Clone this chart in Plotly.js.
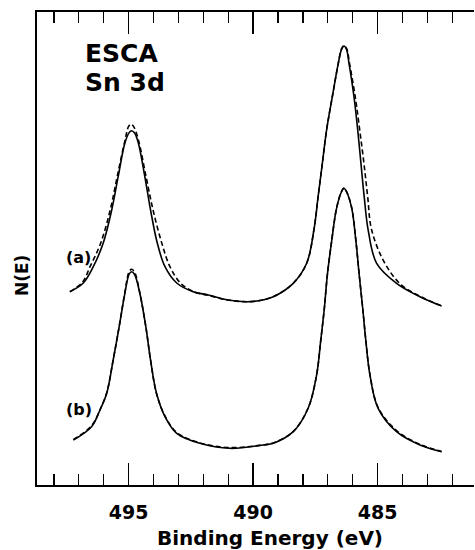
<!DOCTYPE html>
<html>
<head>
<meta charset="utf-8">
<script src="https://cdn.plot.ly/plotly-3.0.1.min.js"></script>
<style>html,body{margin:0;padding:0;background:#fff;}#chart{width:475px;height:550px;}#dbg{position:absolute;left:0;top:528px;width:150px;font:7px monospace;color:#999;line-height:8px;overflow:hidden;height:22px;}</style>
</head>
<body>
<div id="chart"></div>
<div id="dbg"></div>
<script>
window.__errs = [];
window.addEventListener('error', e => { window.__errs.push(String(e.message)); });

// Binding energy (eV) and N(E) (arbitrary units)
const aSolidX = [497.36, 496.82, 496.42, 496.02, 495.68, 495.42, 495.15, 494.98, 494.88, 494.76, 494.61, 494.35, 494.12, 493.85, 493.54, 493.07, 492.41, 491.80, 491.01, 490.26, 489.73, 489.19, 488.39, 487.85, 487.56, 487.39, 487.22, 487.05, 486.82, 486.58, 486.45, 486.35, 486.25, 486.15, 485.95, 485.80, 485.67, 485.54, 485.38, 485.04, 484.24, 483.30, 482.43];
const aSolidY = [40.87, 42.71, 46.15, 51.16, 58.14, 65.18, 72.30, 74.50, 74.91, 74.40, 72.30, 65.18, 58.14, 51.16, 46.15, 42.71, 40.87, 40.17, 39.11, 38.75, 39.00, 39.81, 42.64, 46.87, 53.91, 60.95, 68.01, 75.05, 82.09, 89.15, 92.10, 92.81, 92.10, 89.15, 82.09, 75.05, 68.01, 60.95, 53.91, 46.87, 42.64, 39.81, 37.84];

const aDashX = [497.36, 496.85, 496.55, 496.12, 495.74, 495.46, 495.17, 495.00, 494.90, 494.78, 494.60, 494.30, 494.02, 493.67, 493.34, 492.90, 492.35, 491.80, 491.01, 490.26, 489.73, 489.19, 488.39, 487.85, 487.56, 487.39, 487.22, 487.05, 486.82, 486.58, 486.45, 486.35, 486.24, 486.13, 485.90, 485.72, 485.55, 485.40, 485.24, 484.71, 484.05, 483.25, 482.43];
const aDashY = [40.87, 42.90, 46.15, 51.16, 58.14, 65.18, 72.30, 75.80, 76.30, 75.60, 72.80, 65.18, 58.14, 51.16, 46.15, 42.60, 40.80, 40.10, 39.11, 38.75, 39.00, 39.81, 42.64, 46.87, 53.91, 60.95, 68.01, 75.05, 82.09, 89.15, 92.20, 92.90, 92.20, 89.15, 82.09, 75.05, 68.01, 60.95, 53.91, 46.87, 42.30, 39.80, 37.84];

const bSolidX = [497.22, 496.49, 496.15, 495.88, 495.62, 495.38, 495.15, 494.98, 494.88, 494.76, 494.55, 494.31, 494.12, 493.88, 493.54, 493.07, 492.14, 490.93, 489.59, 489.19, 488.39, 487.79, 487.45, 487.29, 487.14, 487.02, 486.85, 486.65, 486.45, 486.35, 486.25, 486.04, 485.87, 485.74, 485.60, 485.47, 485.31, 484.98, 484.24, 483.30, 482.43];
const bSolidY = [9.51, 12.33, 15.86, 19.39, 26.43, 33.47, 40.53, 44.60, 45.10, 44.50, 40.53, 33.47, 26.43, 19.39, 14.44, 10.93, 8.82, 7.76, 8.46, 8.82, 11.27, 16.22, 23.26, 30.30, 37.36, 44.40, 51.44, 58.50, 62.00, 62.73, 62.00, 58.50, 51.44, 44.40, 37.36, 30.30, 23.26, 16.22, 11.27, 8.46, 7.04];

const bDashX = [497.22, 496.49, 496.15, 495.88, 495.62, 495.38, 495.15, 494.98, 494.88, 494.76, 494.55, 494.31, 494.12, 493.88, 493.54, 493.07, 492.14, 490.93, 489.59, 489.19, 488.39, 487.79, 487.45, 487.29, 487.14, 487.02, 486.85, 486.65, 486.45, 486.35, 486.25, 486.04, 485.87, 485.74, 485.60, 485.47, 485.31, 484.98, 484.24, 483.30, 482.43];
const bDashY = [9.60, 12.50, 15.90, 19.50, 26.50, 33.50, 40.80, 45.10, 45.60, 45.00, 40.60, 33.50, 26.40, 19.30, 14.60, 11.10, 8.90, 7.90, 8.50, 8.90, 11.30, 16.30, 23.30, 30.30, 37.40, 44.40, 51.40, 58.50, 62.10, 62.80, 62.10, 58.60, 51.50, 44.50, 37.40, 30.40, 23.40, 16.40, 11.50, 8.60, 7.10];

const xTick0 = 485;
const xMajorStep = 5;
const xMinorStep = 1;
const xRange = [498.68, 481.13];
const yRange = [0, 100];

const lineW = 1.6;
const sm = 1.0;
const curveTraces = [
  {x: aDashX, y: aDashY, mode: 'lines', line: {color: '#000', width: lineW, dash: '5px,3px', shape: 'spline', smoothing: sm}},
  {x: aSolidX, y: aSolidY, mode: 'lines', line: {color: '#000', width: lineW, shape: 'spline', smoothing: sm}},
  {x: bDashX, y: bDashY, mode: 'lines', line: {color: '#000', width: lineW, dash: '5px,3px', shape: 'spline', smoothing: sm}},
  {x: bSolidX, y: bSolidY, mode: 'lines', line: {color: '#000', width: lineW, shape: 'spline', smoothing: sm}}
];

const F = 'DejaVu Sans, Liberation Sans, Arial, sans-serif';
const layout = {
  width: 475, height: 550,
  margin: {l: 37, r: 1, t: 12, b: 65},
  paper_bgcolor: '#fff', plot_bgcolor: '#fff',
  showlegend: false,
  xaxis: {
    range: xRange, showgrid: false, zeroline: false,
    showline: true, linecolor: '#000', linewidth: 1.6, mirror: 'ticks',
    tickmode: 'linear', tick0: xTick0, dtick: xMajorStep,
    ticks: 'inside', ticklen: 22, tickwidth: 1.4, tickcolor: '#000',
    minor: {tickmode: 'linear', tick0: xTick0, dtick: xMinorStep, ticks: 'inside', ticklen: 11, tickwidth: 1.3, tickcolor: '#000', showgrid: false},
    tickfont: {family: F, size: 19, color: '#000', weight: 'bold'},
    ticklabelstandoff: 10
  },
  yaxis: {
    range: yRange, showgrid: false, zeroline: false,
    showline: true, linecolor: '#000', linewidth: 1.6, mirror: false,
    ticks: '', showticklabels: false
  },
  annotations: [
    {text: 'ESCA', xref: 'paper', yref: 'paper', x: 0.105, y: 0.913, xanchor: 'left', yanchor: 'middle', showarrow: false, font: {family: F, size: 25, color: '#000', weight: 'bold'}},
    {text: 'Sn 3d', xref: 'paper', yref: 'paper', x: 0.105, y: 0.852, xanchor: 'left', yanchor: 'middle', showarrow: false, font: {family: F, size: 25, color: '#000', weight: 'bold'}},
    {text: '(a)', xref: 'paper', yref: 'paper', x: 0.096, y: 0.481, xanchor: 'center', yanchor: 'middle', showarrow: false, font: {family: F, size: 16, color: '#000', weight: 'bold'}},
    {text: '(b)', xref: 'paper', yref: 'paper', x: 0.096, y: 0.1586, xanchor: 'center', yanchor: 'middle', showarrow: false, font: {family: F, size: 16, color: '#000', weight: 'bold'}},
    {text: 'N(E)', xref: 'paper', yref: 'paper', x: -0.034, y: 0.442, xanchor: 'center', yanchor: 'middle', textangle: -90, showarrow: false, font: {family: F, size: 17, color: '#000', weight: 'bold'}},
    {text: 'Binding Energy (eV)', xref: 'paper', yref: 'paper', x: 0.533, y: -0.112, xanchor: 'center', yanchor: 'middle', showarrow: false, font: {family: F, size: 20, color: '#000', weight: 'bold'}}
  ]
};

Plotly.newPlot('chart', curveTraces, layout, {staticPlot: true}).then(gd => {
  const ticks = document.querySelectorAll('path.xtick');
  if (ticks.length === 0 || window.__errs.length) {
    let s = 'n=' + ticks.length + ' e=' + window.__errs.join(';').slice(0, 80);
    const t = document.querySelector('g.xaxislayer-above');
    s += ' L=' + (t ? t.children.length : -1);
    document.getElementById('dbg').textContent = s;
  } else {
    const r = ticks[0].getBoundingClientRect();
    const st = getComputedStyle(ticks[0]);
    if (r.height < 1 || st.display === 'none' || st.visibility === 'hidden' || st.strokeOpacity === '0') {
      document.getElementById('dbg').textContent = 'n=' + ticks.length + ' h=' + r.height.toFixed(1) + ' y=' + r.top.toFixed(0) + ' s=' + st.stroke + ' d=' + (ticks[0].getAttribute('d') || '').slice(0, 30);
    }
  }
}).catch(err => { document.getElementById('dbg').textContent = 'ERR ' + String(err).slice(0, 100); });
</script>
</body>
</html>
